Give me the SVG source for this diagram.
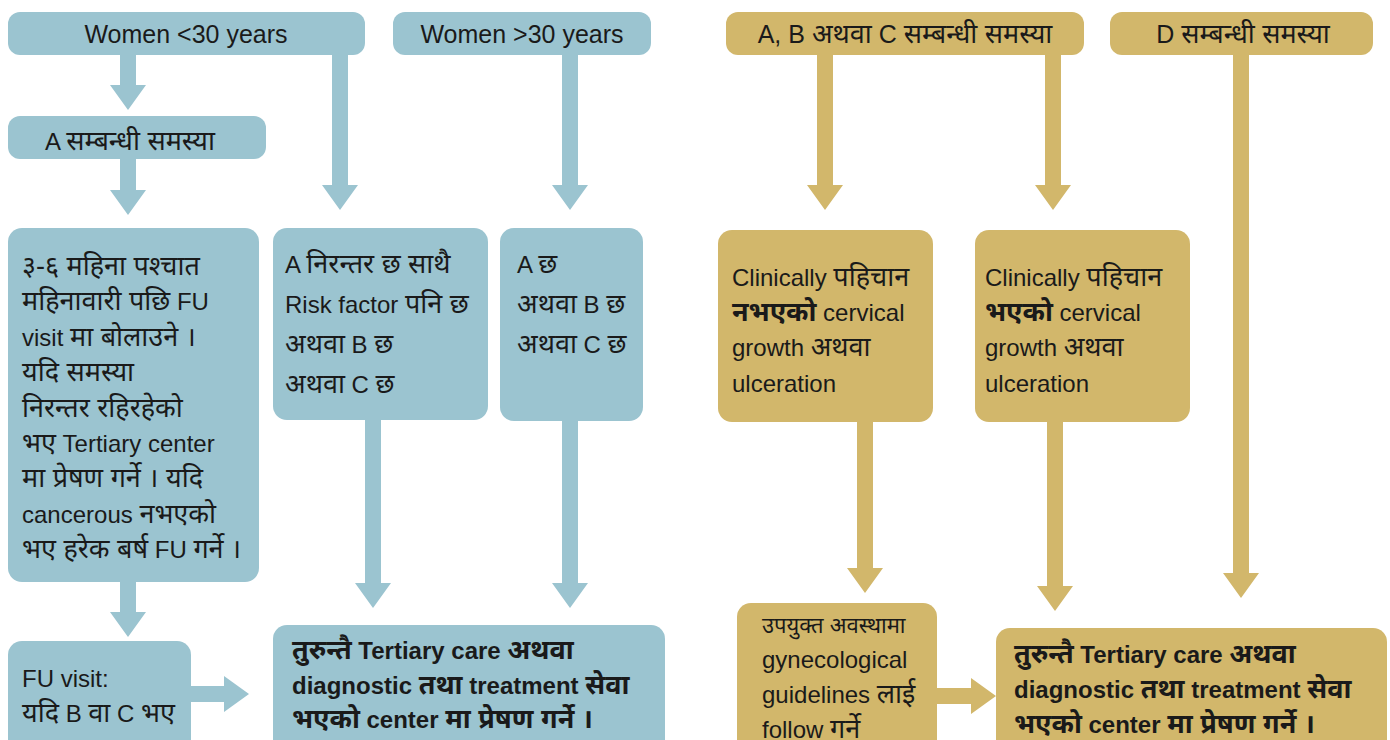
<svg xmlns="http://www.w3.org/2000/svg" width="1390" height="740" viewBox="0 0 1390 740">
<style>
.b{fill:#9bc4d0}
.g{fill:#d2b76b}
text{font-family:"Liberation Sans","Noto Sans",sans-serif;font-size:24px;fill:#1a1a1a}
.c{text-anchor:middle}
.t{font-size:25px}
.bd{font-weight:bold}
.d{font-size:27px}
.sm{font-size:22px}
</style>
<rect width="1390" height="740" fill="#ffffff"/>
<g id="connectors">
<g class="b">
<polygon points="120,55 136,55 136,85 146,85 128,110 110,85 120,85"/>
<polygon points="120,159 136,159 136,190 146,190 128,215 110,190 120,190"/>
<polygon points="332,55 348,55 348,185 358,185 340,210 322,185 332,185"/>
<polygon points="562,55 578,55 578,185 588,185 570,210 552,185 562,185"/>
<polygon points="365,420 381,420 381,583 391,583 373,608 355,583 365,583"/>
<polygon points="562,421 578,421 578,583 588,583 570,608 552,583 562,583"/>
<polygon points="120,582 136,582 136,612 146,612 128,637 110,612 120,612"/>
<polygon points="191,686 224,686 224,676 249,694 224,712 224,702 191,702"/>
</g>
<g class="g">
<polygon points="817,55 833,55 833,185 843,185 825,210 807,185 817,185"/>
<polygon points="1045,55 1061,55 1061,185 1071,185 1053,210 1035,185 1045,185"/>
<polygon points="1233,55 1249,55 1249,573 1259,573 1241,598 1223,573 1233,573"/>
<polygon points="857,422 873,422 873,568 883,568 865,593 847,568 857,568"/>
<polygon points="1047,422 1063,422 1063,586 1073,586 1055,611 1037,586 1047,586"/>
<polygon points="937,688 971,688 971,678 996,696 971,714 971,704 937,704"/>
</g>
</g>
<g id="n-women-under30"><rect class="b" x="8" y="12" width="357" height="43" rx="12"/><text class="c t" x="186" y="43">Women &lt;30 years</text></g>
<g id="n-women-over30"><rect class="b" x="393" y="12" width="258" height="43" rx="12"/><text class="c t" x="522" y="43">Women &gt;30 years</text></g>
<g id="n-a-problem"><rect class="b" x="8" y="116" width="258" height="43" rx="12"/><text x="45" y="150">A <tspan class="d">सम्बन्धी समस्या</tspan></text></g>
<g id="n-followup-text"><rect class="b" x="8" y="228" width="251" height="354" rx="14"/>
<text x="22" y="275"><tspan class="d">३-६ महिना पश्चात</tspan></text>
<text x="22" y="310"><tspan class="d">महिनावारी पछि</tspan> FU</text>
<text x="22" y="346">visit <tspan class="d">मा बोलाउने ।</tspan></text>
<text x="22" y="381"><tspan class="d">यदि समस्या</tspan></text>
<text x="22" y="417"><tspan class="d">निरन्तर रहिरहेको</tspan></text>
<text x="22" y="452"><tspan class="d">भए</tspan> Tertiary center</text>
<text x="22" y="487"><tspan class="d">मा प्रेषण गर्ने । यदि</tspan></text>
<text x="22" y="523">cancerous <tspan class="d">नभएको</tspan></text>
<text x="22" y="558"><tspan class="d">भए हरेक बर्ष</tspan> FU <tspan class="d">गर्ने ।</tspan></text>
</g>
<g id="n-a-persistent"><rect class="b" x="273" y="228" width="215" height="192" rx="14"/>
<text x="285" y="273">A <tspan class="d">निरन्तर छ साथै</tspan></text>
<text x="285" y="313">Risk factor <tspan class="d">पनि छ</tspan></text>
<text x="285" y="353"><tspan class="d">अथवा</tspan> B <tspan class="d">छ</tspan></text>
<text x="285" y="393"><tspan class="d">अथवा</tspan> C <tspan class="d">छ</tspan></text>
</g>
<g id="n-abc"><rect class="b" x="500" y="228" width="143" height="193" rx="14"/>
<text x="517" y="273">A <tspan class="d">छ</tspan></text>
<text x="517" y="313"><tspan class="d">अथवा</tspan> B <tspan class="d">छ</tspan></text>
<text x="517" y="353"><tspan class="d">अथवा</tspan> C <tspan class="d">छ</tspan></text>
</g>
<g id="n-fu-visit"><rect class="b" x="8" y="641" width="183" height="120" rx="14"/>
<text x="22" y="687">FU visit:</text>
<text x="22" y="722"><tspan class="d">यदि</tspan> B <tspan class="d">वा</tspan> C <tspan class="d">भए</tspan></text>
</g>
<g id="n-refer-blue"><rect class="b" x="273" y="625" width="392" height="140" rx="14"/>
<text class="bd" x="292" y="659"><tspan class="d">तुरुन्तै</tspan> Tertiary care <tspan class="d">अथवा</tspan></text>
<text class="bd" x="292" y="694">diagnostic <tspan class="d">तथा</tspan> treatment <tspan class="d">सेवा</tspan></text>
<text class="bd" x="292" y="728"><tspan class="d">भएको</tspan> center <tspan class="d">मा प्रेषण गर्ने ।</tspan></text>
</g>
<g id="n-abc-problem"><rect class="g" x="726" y="12" width="358" height="43" rx="12"/><text class="c t" x="905" y="43">A, B <tspan class="d">अथवा</tspan> C <tspan class="d">सम्बन्धी समस्या</tspan></text></g>
<g id="n-d-problem"><rect class="g" x="1110" y="12" width="263" height="43" rx="12"/><text class="c t" x="1243" y="43">D <tspan class="d">सम्बन्धी समस्या</tspan></text></g>
<g id="n-not-identified"><rect class="g" x="718" y="230" width="215" height="192" rx="14"/>
<text x="732" y="286">Clinically <tspan class="d">पहिचान</tspan></text>
<text x="732" y="321"><tspan class="bd d">नभएको</tspan> cervical</text>
<text x="732" y="356">growth <tspan class="d">अथवा</tspan></text>
<text x="732" y="392">ulceration</text>
</g>
<g id="n-identified"><rect class="g" x="975" y="230" width="215" height="192" rx="14"/>
<text x="985" y="286">Clinically <tspan class="d">पहिचान</tspan></text>
<text x="985" y="321"><tspan class="bd d">भएको</tspan> cervical</text>
<text x="985" y="356">growth <tspan class="d">अथवा</tspan></text>
<text x="985" y="392">ulceration</text>
</g>
<g id="n-guidelines"><rect class="g" x="737" y="603" width="200" height="160" rx="14"/>
<text class="sm" x="762" y="633">उपयुक्त अवस्थामा</text>
<text x="762" y="668">gynecological</text>
<text x="762" y="703">guidelines <tspan class="d">लाई</tspan></text>
<text x="762" y="738">follow <tspan class="d">गर्ने</tspan></text>
</g>
<g id="n-refer-gold"><rect class="g" x="996" y="628" width="391" height="140" rx="14"/>
<text class="bd" x="1014" y="663"><tspan class="d">तुरुन्तै</tspan> Tertiary care <tspan class="d">अथवा</tspan></text>
<text class="bd" x="1014" y="698">diagnostic <tspan class="d">तथा</tspan> treatment <tspan class="d">सेवा</tspan></text>
<text class="bd" x="1014" y="733"><tspan class="d">भएको</tspan> center <tspan class="d">मा प्रेषण गर्ने ।</tspan></text>
</g>
</svg>
